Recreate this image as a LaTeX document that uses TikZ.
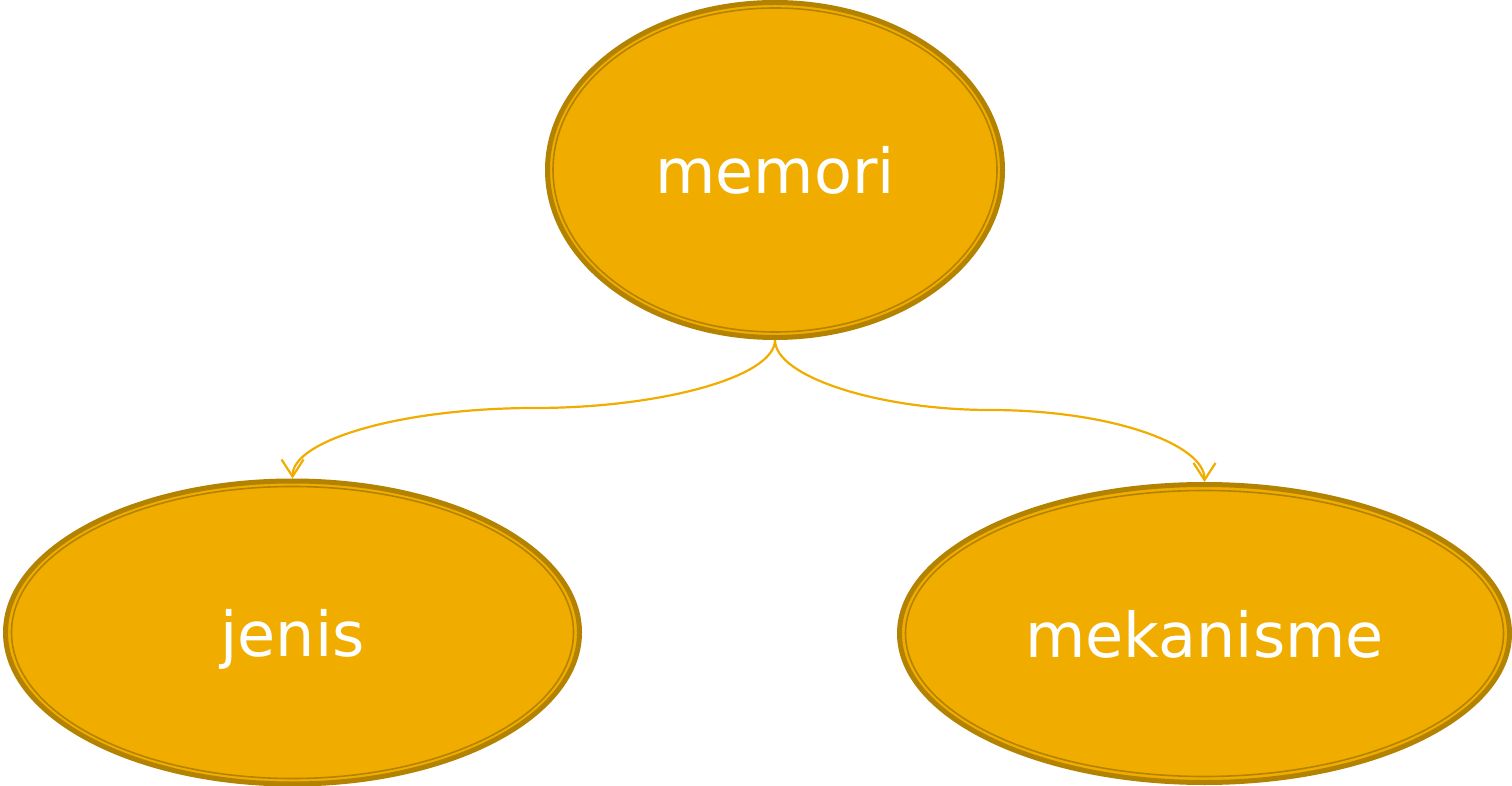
\documentclass[tikz,border=0pt]{standalone}
\usepackage{fontspec}
\setmainfont{DejaVu Sans}
\usepackage{xcolor}
\usetikzlibrary{shapes.geometric}
\usetikzlibrary{arrows.meta}
\definecolor{amber}{HTML}{F0AD00}
\definecolor{amberdark}{HTML}{B38200}
\tikzset{
  topic/.style={ellipse, fill=amber, draw=amberdark, line width=5pt,
    text=white, font=\fontsize{62}{72}\selectfont, inner sep=0pt,
    text depth=0pt},
  rim/.style={draw=amberdark, line width=1.6pt},
  link/.style={draw=amber, line width=2.2pt,
    -{Straight Barb[length=17pt,width=22pt]}}
}
\begin{document}
\begin{tikzpicture}[x=1pt,y=1pt]
    \useasboundingbox (0,0) rectangle (1512,785);
    \node[topic, minimum width=455pt, minimum height=335pt] (memori) at (775,615) {memori};
    \node[topic, minimum width=574pt, minimum height=303pt] (jenis) at (292.5,152.5) {jenis};
    \node[topic, minimum width=610pt, minimum height=298pt] (mekanisme) at (1204.5,151.5) {mekanisme};
    % inner rims
    \draw[rim] (memori.center) ellipse [x radius=222, y radius=162];
    \draw[rim] (jenis.center) ellipse [x radius=281, y radius=146];
    \draw[rim] (mekanisme.center) ellipse [x radius=299, y radius=143];
    % links
    \coordinate (jl) at (535,377);
    \coordinate (ml) at (990,375);
    \draw[link] (memori.south) .. controls +(0,-37) and +(125,0) .. (jl)
      .. controls +(-135,0) and +(0,38) .. (jenis.north);
    \draw[link] (memori.south) .. controls +(0,-37) and +(-110,0) .. (ml)
      .. controls +(120,0) and +(0,38) .. (mekanisme.north);
  \end{tikzpicture}
\end{document}
